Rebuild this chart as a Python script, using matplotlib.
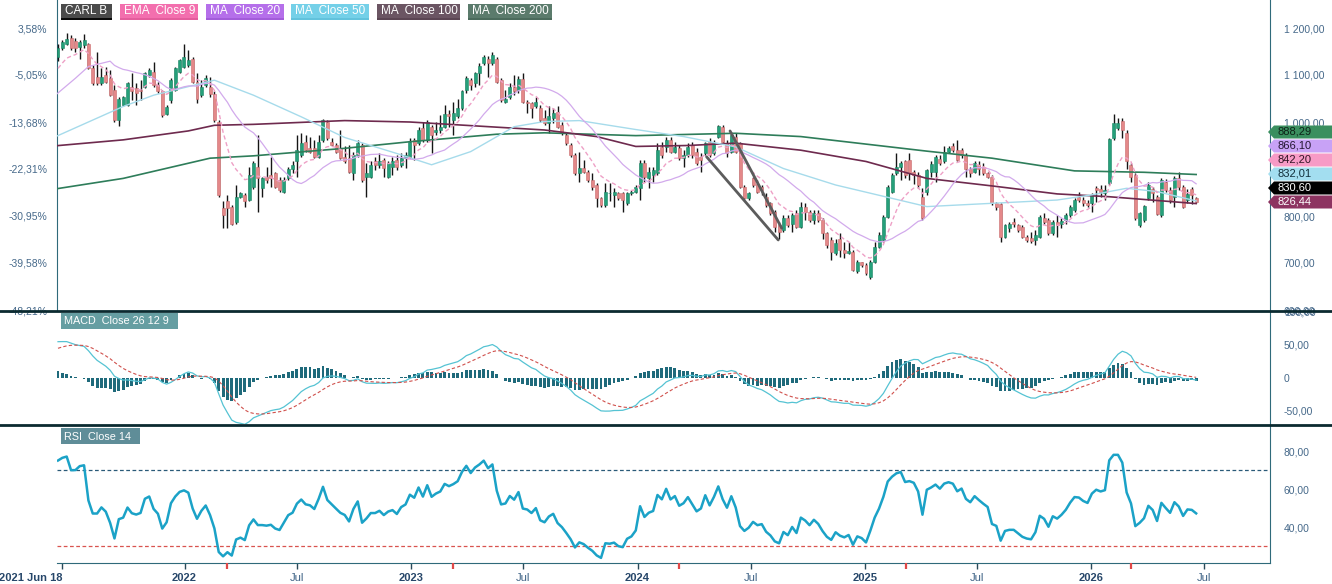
import numpy as np
import pandas as pd
import matplotlib
matplotlib.use("Agg")
import matplotlib.pyplot as plt
import matplotlib.dates as mdates
from matplotlib.patches import Rectangle, Polygon
from matplotlib.lines import Line2D
from matplotlib.ticker import FixedLocator, FuncFormatter

plt.rcParams['font.family'] = ['Liberation Sans', 'DejaVu Sans']

# ---------------- data ----------------
START = "2021-06-11"

opens = [1139, 1157, 1167, 1178, 1173, 1160, 1164, 1167, 1114, 1096,
         1082, 1100, 1093, 1068, 1004, 1036, 1036, 1075, 1072, 1068,
         1075, 1100, 1107, 1079, 1065, 1018, 1047, 1068, 1107, 1118,
         1121, 1135, 1086, 1057, 1079, 1075, 1060, 1001, 816, 831,
         820, 788, 841, 845, 834, 862, 905, 859, 884, 887,
         891, 877, 852, 880, 901, 916, 930, 958, 944, 944,
         926, 962, 1001, 958, 951, 944, 926,
         923, 891, 930,
         951, 884, 884, 916, 909, 919, 884, 905, 919, 909,
         923, 926, 962, 955, 987, 962, 989, 979, 982, 990,
         1017, 1004, 1012, 1029, 1068, 1089, 1082, 1104, 1125, 1135,
         1125, 1135, 1089, 1043, 1054, 1075, 1068, 1091, 1043, 1040,
         1033, 1029, 1008, 997, 1008, 1022, 994, 972, 951, 930,
         891, 902, 894, 877, 866, 838, 824, 848, 845, 848,
         848, 827, 848, 852,
         859, 912, 880, 887, 891, 947,
         947, 962, 937, 944, 923, 930, 951, 937, 926, 933,
         958, 933, 969, 990, 955, 937, 969, 955, 862, 838,
         880, 869, 862, 841, 827, 809, 781, 770, 795, 784,
         806, 777, 820, 809, 791, 806, 791, 763, 749, 721,
         752, 728, 722, 724, 682, 703, 696, 671, 703, 735,
         749, 798, 852, 891, 905, 916, 919, 894, 887, 841,
         852, 894, 894, 921, 916, 937, 948, 940, 940, 930,
         901, 894, 909, 905, 891, 884, 827, 826, 756, 774,
         788, 781, 777, 756, 754, 749, 756, 795, 791, 763,
         788, 784, 791, 802, 813, 841, 834, 828, 827, 859,
         857, 848, 870, 965, 987, 1003, 976, 909, 887, 781,
         791, 838, 857, 841, 802, 873, 855, 841, 880, 862,
         834, 857, 838]

highs = [1165, 1175, 1190, 1185, 1178, 1174, 1187, 1169, 1121, 1150,
         1114, 1118, 1111, 1079, 1054, 1055, 1086, 1104, 1082, 1089,
         1107, 1114, 1128, 1086, 1068, 1036, 1093, 1118, 1135, 1166,
         1153, 1139, 1104, 1089, 1100, 1096, 1065, 1004, 831, 845,
         823, 866, 852, 848, 905, 916, 972, 884, 905, 926,
         894, 884, 884, 905, 916, 972, 976, 972, 969, 962,
         972, 1006, 1004, 965, 955, 983, 948,
         951, 937, 962,
         955, 912, 916, 926, 933, 923, 916, 926, 930, 933,
         937, 965, 965, 990, 1001, 1004, 994, 1001, 1015, 1036,
         1026, 1043, 1050, 1068, 1097, 1093, 1107, 1125, 1143, 1140,
         1150, 1139, 1093, 1068, 1082, 1100, 1097, 1104, 1047, 1043,
         1054, 1036, 1026, 1033, 1029, 1033, 1001, 976, 955, 933,
         937, 919, 898, 891, 870, 841, 870, 870, 859, 852,
         852, 852, 855, 866,
         919, 919, 905, 905, 955, 958,
         969, 969, 958, 951, 940, 955, 958, 944, 933, 958,
         965, 962, 994, 994, 962, 979, 976, 958, 866, 852,
         884, 877, 866, 848, 830, 813, 788, 802, 802, 806,
         813, 830, 827, 813, 813, 813, 795, 767, 756, 752,
         763, 745, 745, 728, 706, 703, 699, 706, 745, 767,
         802, 866, 891, 933, 916, 919, 933, 898, 894, 859,
         901, 916, 930, 930, 948, 948, 956, 962, 944, 933,
         905, 916, 916, 912, 894, 887, 830, 827, 784, 788,
         795, 784, 781, 760, 767, 770, 802, 806, 795, 791,
         802, 795, 806, 823, 838, 852, 841, 834, 848, 864,
         866, 866, 965, 1017, 1008, 1008, 984, 912, 891, 809,
         823, 873, 861, 845, 880, 878, 862, 885, 894, 866,
         857, 862, 841]

lows = [1130, 1153, 1164, 1153, 1150, 1135, 1157, 1112, 1079, 1079,
        1079, 1082, 1055, 1001, 992, 1034, 1034, 1047, 1036, 1047,
        1072, 1096, 1075, 1061, 1011, 1015, 1040, 1065, 1104, 1114,
        1118, 1082, 1041, 1054, 1075, 1054, 1001, 841, 774, 774,
        781, 784, 838, 820, 831, 858, 809, 841, 870, 862,
        859, 852, 848, 877, 891, 884, 926, 937, 933, 923,
        923, 958, 962, 948, 933, 921, 912,
        891, 877, 926,
        873, 841, 880, 898, 902, 884, 880, 887, 898, 905,
        902, 923, 919, 951, 958, 958, 933, 972, 976, 987,
        990, 972, 1008, 1026, 1061, 1068, 1075, 1079, 1121, 1096,
        1121, 1082, 1043, 1040, 1050, 1058, 1061, 1040, 1019, 1008,
        1029, 1001, 994, 976, 997, 987, 972, 951, 926, 887,
        873, 891, 873, 855, 820, 820, 820, 831, 820, 834,
        809, 824, 845, 848,
        834, 873, 859, 873, 887, 923,
        937, 933, 933, 919, 905, 926, 923, 908, 894, 930,
        926, 930, 965, 955, 926, 933, 933, 859, 834, 834,
        862, 848, 845, 820, 802, 767, 752, 767, 777, 767,
        774, 774, 791, 788, 784, 788, 752, 731, 706, 717,
        713, 710, 720, 682, 678, 692, 675, 667, 699, 731,
        745, 795, 848, 887, 877, 880, 877, 869, 859, 791,
        845, 884, 873, 909, 912, 933, 937, 916, 923, 884,
        884, 891, 887, 887, 880, 823, 813, 745, 753, 767,
        777, 767, 753, 745, 742, 738, 753, 784, 760, 760,
        756, 774, 784, 798, 809, 830, 821, 820, 809, 830,
        841, 834, 866, 962, 983, 965, 901, 873, 791, 777,
        788, 834, 830, 802, 798, 852, 827, 820, 855, 818,
        827, 826, 828]

closes = [1158.5, 1171, 1177, 1157, 1157, 1171, 1174, 1114, 1082, 1082,
          1096, 1086, 1057, 1004, 1050, 1054, 1082, 1065, 1061, 1065,
          1104, 1111, 1079, 1065, 1015, 1031, 1089, 1114, 1132, 1138,
          1132, 1086, 1050, 1075, 1093, 1060, 1004, 845, 802, 816,
          784, 841, 848, 831, 887, 912, 880, 880, 877, 880,
          862, 855, 877, 901, 909, 940, 955, 940, 937, 926,
          958, 1004, 965, 951, 937, 923, 916,
          894, 930, 955,
          877, 891, 909, 909, 916, 902, 912, 916, 905, 923,
          930, 958, 951, 983, 962, 1001, 972, 983, 990, 1017,
          1012, 1019, 1029, 1065, 1093, 1079, 1104, 1119, 1139, 1125,
          1143, 1086, 1047, 1050, 1075, 1065, 1091, 1043, 1040, 1029,
          1043, 1004, 997, 1012, 1019, 990, 976, 955, 930, 891,
          902, 894, 877, 862, 838, 824, 852, 850, 852, 838,
          834, 848, 852, 862,
          912, 884, 894, 898, 940, 930,
          962, 937, 947, 923, 930, 947, 930, 912, 919, 955,
          930, 955, 991, 958, 933, 972, 937, 862, 838, 848,
          866, 852, 855, 823, 806, 777, 767, 795, 781, 802,
          777, 820, 809, 791, 806, 791, 763, 738, 724, 742,
          728, 721, 726, 685, 703, 696, 678, 703, 735, 760,
          798, 862, 887, 905, 912, 887, 891, 887, 866, 795,
          898, 910, 925, 912, 937, 944, 940, 919, 930, 901,
          891, 912, 901, 891, 882, 827, 820, 755, 781, 784,
          784, 770, 756, 749, 746, 760, 797, 788, 763, 788,
          781, 790, 802, 820, 835, 834, 827, 823, 845, 855,
          852, 855, 963, 997, 997, 983, 916, 884, 795, 806,
          821, 866, 850, 804, 877, 855, 834, 880, 862, 820,
          847, 845, 830.6]

# moving averages (week number since START, value)
ma20_early_weeks = [-1, 4, 7, 11]
ma20_early_vals = [1054, 1093, 1118, 1127]
ma50_weeks = [-1, 15, 22, 36, 45, 56, 66, 78, 86, 95, 105, 112, 120, 133,
              144, 156, 167, 179, 200, 215, 230, 238, 246, 253, 262]
ma50_vals = [967, 1033, 1057, 1089, 1057, 1011, 967, 933, 909, 937, 990, 1001,
             1003, 984, 969, 947, 901, 866, 820, 827, 834, 845, 859, 852, 832.01]
ma100_weeks = [-1, 15, 30, 36, 45, 66, 81, 101, 112, 124, 133, 145, 156, 171,
               186, 200, 215, 230, 242, 262]
ma100_vals = [949, 962, 981, 993, 995, 1003, 1000, 989, 983, 969, 948, 950, 955,
              940, 916, 880, 864, 847, 841, 826.44]
ma200_weeks = [-1, 15, 35, 45, 66, 81, 101, 112, 133, 156, 171, 200, 215, 234,
               250, 262]
ma200_vals = [857, 880, 923, 928, 944, 958, 974, 977, 971, 976, 969, 938, 923,
              896, 893, 888.29]

# drawn trend lines (week, price)
trend_a_weeks = [149.3, 165.8]
trend_a_prices = [926, 749]
trend_b_weeks = [154.7, 166.6]
trend_b_prices = [981, 774]

# indicator seeds
EMA9_SEED = 1114.0
EMA12_SEED, EMA26_SEED, SIGNAL_SEED = 1118.0, 1063.0, 45.0
RSI_GAIN_SEED, RSI_LOSS_SEED = 12.0, 4.0

dividend_dates = ["2022-03-11", "2023-03-10", "2024-03-08", "2025-03-09", "2026-03-06"]

price_ticks = [600, 700, 800, 900, 1000, 1100, 1200]
macd_ticks = [-50, 0, 50, 100]
rsi_ticks = [40, 60, 80]

tick_dates = ["2021-06-18", "2022-01-01", "2022-07-01", "2023-01-01", "2023-07-01",
              "2024-01-01", "2024-07-01", "2025-01-01", "2025-07-01", "2026-01-01",
              "2026-07-01"]
tick_labels = ["2021 Jun 18", "2022", "Jul", "2023", "Jul", "2024", "Jul", "2025",
               "Jul", "2026", "Jul"]

tag_values = ["888,29", "866,10", "842,20", "832,01", "830,60", "826,44"]

# ---------------- derived ----------------
o = np.array(opens, float); h = np.array(highs, float)
l = np.array(lows, float); c = np.array(closes, float)
n = len(c)
start = pd.Timestamp(START)
def wk(w):
    return mdates.date2num(start + pd.to_timedelta(np.asarray(w, float) * 7, unit="D"))
x = wk(np.arange(n))

ema9 = np.zeros(n); ema9[0] = EMA9_SEED
for i in range(1, n):
    ema9[i] = ema9[i-1] + 0.2 * (c[i] - ema9[i-1])
ma20 = pd.Series(c).rolling(20, min_periods=1).mean().values
k0 = ma20_early_weeks[-1] + 1
ma20_x = np.concatenate([wk(ma20_early_weeks), x[k0:]])
ma20_y = np.concatenate([ma20_early_vals, ma20[k0:]])

ema12 = np.zeros(n); ema26 = np.zeros(n); sig = np.zeros(n)
ema12[0], ema26[0] = EMA12_SEED, EMA26_SEED
macd = np.zeros(n); macd[0] = EMA12_SEED - EMA26_SEED; sig[0] = SIGNAL_SEED
for i in range(1, n):
    ema12[i] = ema12[i-1] + 2/13 * (c[i] - ema12[i-1])
    ema26[i] = ema26[i-1] + 2/27 * (c[i] - ema26[i-1])
    macd[i] = ema12[i] - ema26[i]
    sig[i] = sig[i-1] + 2/10 * (macd[i] - sig[i-1])
hist = macd - sig

rsi = np.zeros(n)
g, lo_ = RSI_GAIN_SEED, RSI_LOSS_SEED
rsi[0] = 100 - 100 / (1 + g / lo_)
for i in range(1, n):
    d = c[i] - c[i-1]
    g = (g * 13 + max(d, 0)) / 14
    lo_ = (lo_ * 13 + max(-d, 0)) / 14
    rsi[i] = 100 - 100 / (1 + g / lo_) if lo_ > 0 else 100

BASE = c[0]

# ---------------- figure ----------------
W, H = 1332, 584
fig = plt.figure(figsize=(W / 100, H / 100), dpi=100)
LX, RX = 57, 1270
def box(top, bottom):
    return [LX / W, 1 - bottom / H, (RX - LX) / W, (bottom - top) / H]

ax1 = fig.add_axes(box(0, 310))
ax2 = fig.add_axes(box(311, 424), sharex=ax1)
ax3 = fig.add_axes(box(425, 563), sharex=ax1)

SP = '#2f6a7a'
LBL = '#46698a'
for ax in (ax1, ax2, ax3):
    ax.set_facecolor('white')
    for s in ('top', 'left', 'bottom'):
        ax.spines[s].set_visible(False)
    ax.spines['right'].set_color(SP)
    ax.yaxis.tick_right()
    ax.tick_params(axis='y', length=0, pad=10, labelsize=7.5, labelcolor=LBL)
    ax.tick_params(axis='x', length=0)
ax3.spines['bottom'].set_visible(True)
ax3.spines['bottom'].set_color(SP)

# candles
up = c >= o
body_w = 4.8
ax1.vlines(x, l, h, color='#151515', lw=1.0, zorder=2)
bh = np.maximum(np.abs(c - o), 1.2)
bb = np.minimum(o, c)
ax1.bar(x[up], bh[up], bottom=bb[up], width=body_w, color='#25a07a',
        edgecolor='#1c8464', lw=0.4, zorder=3)
ax1.bar(x[~up], bh[~up], bottom=bb[~up], width=body_w, color='#e48889',
        edgecolor='#c86a6c', lw=0.4, zorder=3)

# moving averages
ax1.plot(wk(ma200_weeks), ma200_vals, color='#2e7d5a', lw=1.2, zorder=4)
ax1.plot(wk(ma100_weeks), ma100_vals, color='#6e2a4e', lw=1.2, zorder=4)
ax1.plot(wk(ma50_weeks), ma50_vals, color='#a6dbeb', lw=1.0, zorder=4)
ax1.plot(ma20_x, ma20_y, color='#d2aaec', lw=0.9, zorder=4)
ax1.plot(x, ema9, color='#eea0c6', lw=1.0, ls=(0, (3, 2)), zorder=4)

# trend lines
ax1.plot(wk(trend_a_weeks), trend_a_prices, color='#5c5c5c', lw=2, zorder=5,
         solid_capstyle='round')
ax1.plot(wk(trend_b_weeks), trend_b_prices, color='#5c5c5c', lw=2, zorder=5,
         solid_capstyle='round')

ax1.set_xlim(wk(-0.23), wk(279.0))
top_price = 1200 + 28 / 0.47
ax1.set_ylim(600, top_price)
ax1.yaxis.set_major_locator(FixedLocator(price_ticks))
# the 900 label sits under the value tags in the reference, so it is left blank
ax1.yaxis.set_major_formatter(FuncFormatter(
    lambda v, p: "" if v == 900 else f"{v:,.2f}".replace(',', ' ').replace('.', ',')))
ax1.tick_params(axis='x', labelbottom=False)

def to_pct(p):
    return (np.asarray(p) / BASE - 1) * 100
def to_price(q):
    return BASE * (1 + np.asarray(q) / 100)
sec = ax1.secondary_yaxis('left', functions=(to_pct, to_price))
sec.yaxis.set_major_locator(FixedLocator([float(to_pct(p)) for p in price_ticks]))
sec.yaxis.set_major_formatter(FuncFormatter(
    lambda v, p: f"{v:.2f}".replace('.', ',') + '%'))
sec.tick_params(axis='y', length=0, pad=7, labelsize=7.5, labelcolor=LBL)
sec.spines['left'].set_color(SP)

# MACD panel
ax2.bar(x, hist, width=4.6, color='#1f6a7b', zorder=2)
ax2.plot(x, macd, color='#55c3d3', lw=0.9, zorder=3)
ax2.plot(x, sig, color='#d0504c', lw=0.8, ls=(0, (3, 2)), zorder=3)
ax2.set_ylim(-69.7, 101.5)
ax2.yaxis.set_major_locator(FixedLocator(macd_ticks))
ax2.yaxis.set_major_formatter(FuncFormatter(
    lambda v, p: "0" if v == 0 else f"{v:.2f}".replace('.', ',')))
ax2.tick_params(axis='x', labelbottom=False)

# RSI panel
ax3.plot(x, rsi, color='#1ba2c7', lw=1.8, zorder=3)
ax3.axhline(70, color='#2a5a78', lw=0.9, ls=(0, (3, 2)), zorder=2)
ax3.axhline(30, color='#d9534f', lw=0.9, ls=(0, (3, 2)), zorder=2)
ax3.set_ylim(21.05, 93.7)
ax3.yaxis.set_major_locator(FixedLocator(rsi_ticks))
ax3.yaxis.set_major_formatter(FuncFormatter(lambda v, p: f"{v:.2f}".replace('.', ',')))

tpos = mdates.date2num(pd.to_datetime(tick_dates))
ax3.set_xticks(tpos)
ax3.set_xticklabels(tick_labels)
ax3.tick_params(axis='x', length=4, width=1, color='#2a4a5a', pad=3, labelsize=8)
for j, (lab, txt) in enumerate(zip(ax3.get_xticklabels(), tick_labels)):
    if txt == "Jul":
        lab.set_color('#3f6386')
    else:
        lab.set_color('#27476a')
        lab.set_fontweight('bold')
    if j == 0:
        lab.set_ha('right')

ddates = mdates.date2num(pd.to_datetime(dividend_dates))
ax3.vlines(ddates, -0.045, 0.0, transform=ax3.get_xaxis_transform(),
           color='#e04848', lw=1.6, clip_on=False, zorder=5)

# separators
for yy in (310.5, 424.5):
    fig.add_artist(Line2D([0, 1], [1 - yy / H, 1 - yy / H], transform=fig.transFigure,
                          color='#0b2a30', lw=2, zorder=10))

# legend boxes
def fbox(x0, y0, x1, y1, fc, z=11):
    fig.add_artist(Rectangle((x0 / W, 1 - y1 / H), (x1 - x0) / W, (y1 - y0) / H,
                             transform=fig.transFigure, fc=fc, ec='none', zorder=z))

legend_items = [("CARL B", '#4b4b4b', '#0a0a0a', 61, 112),
                ("EMA  Close 9", '#f36fae', '#e35d9c', 120, 198),
                ("MA  Close 20", '#b56fea', '#a25cd9', 206, 284),
                ("MA  Close 50", '#74d0e8', '#62c2dc', 291, 369),
                ("MA  Close 100", '#6b5563', '#5b4553', 377, 460),
                ("MA  Close 200", '#5b7b6c', '#4b6b5c', 468, 552)]
for txt, fc, uc, x0, x1 in legend_items:
    fbox(x0, 4, x1, 18, fc)
    fbox(x0, 18, x1, 20, uc)
    fig.text((x0 + 4) / W, 1 - 11.5 / H, txt, color='white', fontsize=8.5,
             va='center', ha='left', zorder=12)

fbox(61, 313, 178, 329, '#669ea2')
fig.text(64 / W, 1 - 321.5 / H, "MACD  Close 26 12 9", color='white', fontsize=7.8,
         va='center', ha='left', zorder=12)
fbox(61, 428, 140, 444, '#5f8d98')
fig.text(64 / W, 1 - 436.5 / H, "RSI  Close 14", color='white', fontsize=7.8,
         va='center', ha='left', zorder=12)

# value tags on the right
tag_styles = [('#3a8f5f', '#0d2418'), ('#c8a2f6', '#241633'), ('#f79bc6', '#331626'),
              ('#a3def0', '#12303c'), ('#000000', '#ffffff'), ('#8d3461', '#ffffff')]
for k, (val, (fc, tc)) in enumerate(zip(tag_values, tag_styles)):
    yc = 132 + 14 * k
    pts = [(1268, yc), (1274, yc - 6.5), (1332, yc - 6.5), (1332, yc + 6.5), (1274, yc + 6.5)]
    fig.add_artist(Polygon([(px / W, 1 - py / H) for px, py in pts], closed=True,
                           transform=fig.transFigure, fc=fc, ec='none', zorder=11))
    fig.text(1277 / W, 1 - yc / H, val, color=tc, fontsize=8, va='center',
             ha='left', zorder=12)

fig.savefig("out.png", dpi=100, facecolor='white')
